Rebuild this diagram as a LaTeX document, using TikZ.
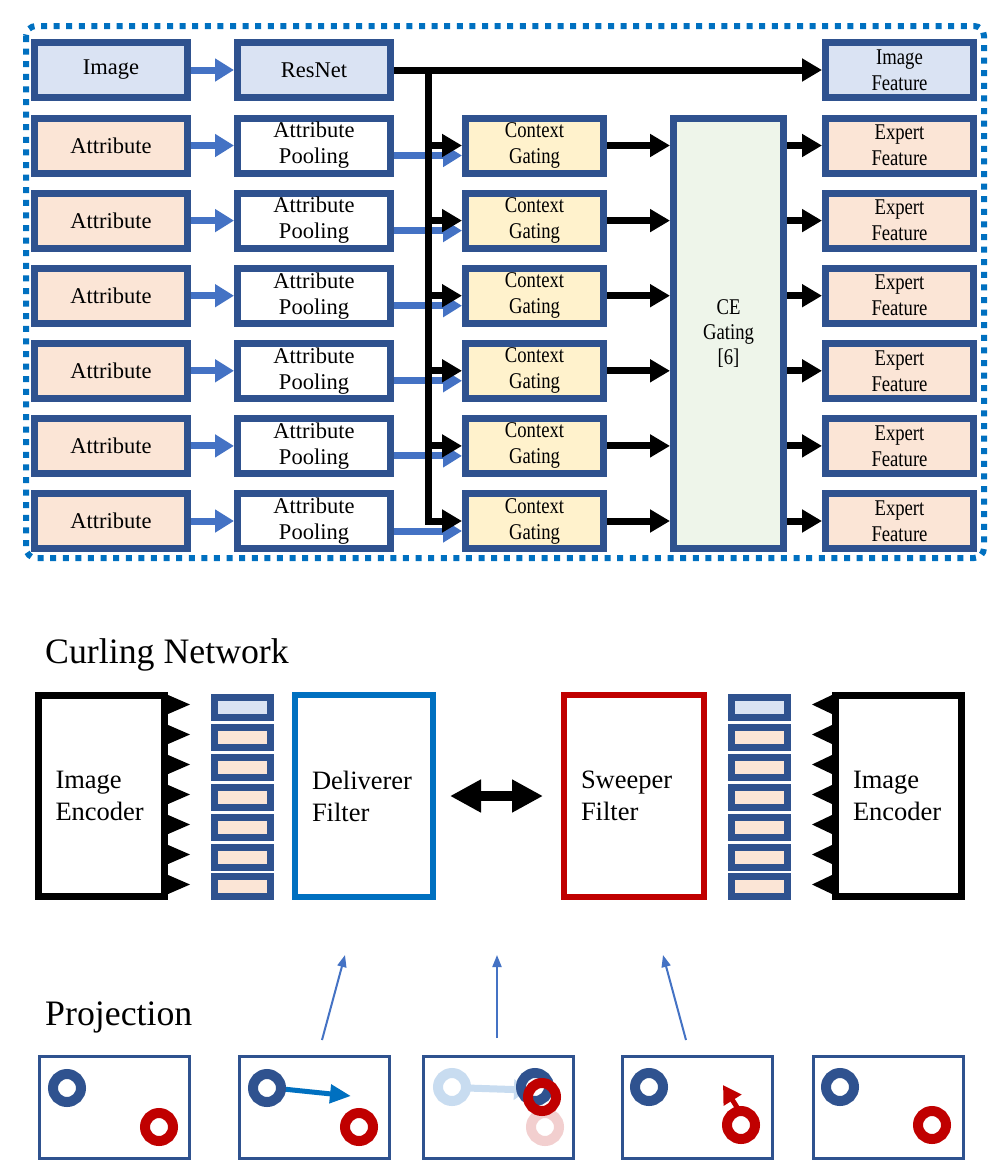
\documentclass[tikz,border=0pt]{standalone}
\usepackage{fontspec}
\setmainfont{Liberation Serif}
\newfontfamily\narrowserif[FakeStretch=0.83]{Liberation Serif}
\usetikzlibrary{arrows.meta}
\definecolor{boxblue}{HTML}{2F528F}
\definecolor{arrblue}{HTML}{4472C4}
\definecolor{lblue}{HTML}{DAE3F3}
\definecolor{peach}{HTML}{FBE5D6}
\definecolor{cream}{HTML}{FFF2CC}
\definecolor{lgreen}{HTML}{EEF5EA}
\definecolor{dblue}{HTML}{0070C0}
\definecolor{dred}{HTML}{C00000}
\definecolor{fblue}{HTML}{C8DCF0}
\definecolor{fred}{HTML}{F2CFCF}
\begin{document}
\begin{tikzpicture}[x=1pt,y=-1pt,
  blk/.style={draw=boxblue, line width=7pt, minimum width=153pt, minimum height=55pt,
    inner sep=0pt, align=center, font=\fontsize{22.5}{26}\selectfont},
  nblk/.style={blk, font=\narrowserif\fontsize{22.5}{26}\selectfont},
  barr/.style={draw=arrblue, line width=7pt, -{Triangle[length=19pt,width=22pt]}},
  karr/.style={draw=black, line width=7pt, -{Triangle[length=20pt,width=22pt]}},
  feat/.style={draw=boxblue, line width=7pt, minimum width=56pt, minimum height=20pt, inner sep=0pt},
  encbox/.style={draw=black, line width=7pt, minimum width=126pt, minimum height=201pt,
    text width=92pt, align=left, font=\fontsize{26.5}{32}\selectfont},
  filt/.style={line width=6pt, minimum width=138pt, minimum height=202pt,
    text width=104pt, inner xsep=17pt, align=left, font=\fontsize{26.5}{32}\selectfont},
  pbox/.style={draw=boxblue, line width=3pt, minimum width=150pt, minimum height=102pt, inner sep=0pt},
  ring/.style={line width=10pt},
  thin/.style={draw=arrblue, line width=2pt, -{Triangle[length=12pt,width=9pt]}},
  title/.style={inner sep=0pt, font=\fontsize{35.8}{44}\selectfont}
]
\path[use as bounding box, fill=white] (0,0) rectangle (1002,1170);

% dotted frame
\draw[dblue, line width=6pt, dash pattern=on 6pt off 6.6pt, rounded corners=10pt] (26,26) rectangle (984,558);

% top row
\node[blk, fill=lblue] (img) at (111,70) {Image};
\node[blk, fill=lblue] (res) at (314,70) {ResNet};
\node[nblk, fill=lblue, minimum width=148pt] (imf) at (899.5,70) {Image\\Feature};

% CE gating
\node[nblk, fill=lgreen, minimum width=110pt, minimum height=430pt,
  font=\narrowserif\fontsize{22.5}{25}\selectfont] (ce) at (728.5,333.5) {CE\\Gating\\{[6]}};

\foreach \i in {1,...,6}{
  \pgfmathsetmacro{\yy}{145.5+75.1*(\i-1)}
  \node[blk, fill=peach] (att\i) at (111,\yy) {Attribute};
  \node[blk, fill=white] (pool\i) at (314,\yy) {Attribute\\Pooling};
  \node[nblk, fill=cream, minimum width=138pt] (cg\i) at (534.5,\yy) {Context\\Gating};
  \node[nblk, fill=peach, minimum width=148pt] (ex\i) at (899.5,\yy) {Expert\\Feature};
}

% blue arrows
\draw[barr] (img.east) -- (res.west);
\foreach \i in {1,...,6}{
  \draw[barr] (att\i.east) -- (pool\i.west);
  \draw[barr] ([yshift=-10pt]pool\i.east) -- ([yshift=-10pt]cg\i.west);
}

% black arrows
\coordinate (jn) at (428,70);
\draw[karr] (res.east) -- (imf.west);
\draw[karr] (jn) |- (cg6.west);
\foreach \i in {1,...,5}{
  \draw[karr] (jn |- cg\i.west) -- (cg\i.west);
}
\foreach \i in {1,...,6}{
  \draw[karr] (cg\i.east) -- (ce.west |- cg\i.east);
  \draw[karr] (ce.east |- ex\i.west) -- (ex\i.west);
}

% Curling network
\node[title, anchor=base west] (curl) at (45,663) {Curling Network};

\node[encbox, inner xsep=17pt] (enc1) at (101.5,796) {Image\\Encoder};
\node[encbox, inner xsep=17.5pt, text width=91pt] (enc2) at (898.5,796) {Image\\Encoder};
\node[filt, draw=dblue] (dfil) at (364,796) {Deliverer\\Filter};
\node[filt, draw=dred, minimum width=140pt, text width=106pt] (sfil) at (634,796) {Sweeper\\Filter};

\foreach \k in {0,...,6}{
  \pgfmathsetmacro{\yy}{707.5+29.9*\k}
  \pgfmathsetmacro{\ty}{704.5+30.0*\k}
  \ifnum\k=0
    \node[feat, fill=lblue] (fl\k) at (242.5,\yy) {};
    \node[feat, fill=lblue] (fr\k) at (759.5,\yy) {};
  \else
    \node[feat, fill=peach] (fl\k) at (242.5,\yy) {};
    \node[feat, fill=peach] (fr\k) at (759.5,\yy) {};
  \fi
  \fill[black] (167,\ty-10) -- (190,\ty) -- (167,\ty+10) -- cycle;
  \fill[black] (833,\ty-10) -- (812,\ty) -- (833,\ty+10) -- cycle;
}

\draw[line width=10pt, {Triangle[length=31pt,width=31pt]}-{Triangle[length=31pt,width=31pt]}]
  ([xshift=14pt]dfil.east) -- ([xshift=-18pt]sfil.west);

% Projection
\node[title, anchor=base west] (proj) at (45,1025) {Projection};

\node[pbox] (p1) at (114.5,1107.5) {};
\node[pbox] (p2) at (314.5,1107.5) {};
\node[pbox] (p3) at (498.5,1107.5) {};
\node[pbox] (p4) at (697,1107) {};
\node[pbox] (p5) at (888,1107) {};

% box 1
\draw[ring, boxblue] (67,1088) circle[radius=14pt];
\draw[ring, dred] (159,1127) circle[radius=14pt];
% box 2
\draw[dblue, line width=5pt, -{Triangle[length=21pt,width=18pt]}] (283,1089) -- (351,1096);
\draw[ring, boxblue] (267,1088) circle[radius=14pt];
\draw[ring, dred] (359,1127) circle[radius=14pt];
% box 3
\draw[ring, fred] (545,1127) circle[radius=14pt];
\draw[ring, fblue] (452,1087) circle[radius=14pt];
\draw[fblue, line width=7pt, -{Triangle[length=14pt,width=20pt]}] (467,1088) -- (528,1090);
\draw[ring, boxblue] (535,1087) circle[radius=14pt];
\draw[ring, dred] (542,1097) circle[radius=14pt];
% box 4
\draw[ring, boxblue] (649,1087) circle[radius=14pt];
\draw[dred, line width=5pt, -{Triangle[length=18pt,width=20pt]}] (740,1112) -- (723,1085);
\draw[ring, dred] (741,1125) circle[radius=14pt];
% box 5
\draw[ring, boxblue] (840,1087) circle[radius=14pt];
\draw[ring, dred] (932,1125) circle[radius=14pt];

% thin arrows
\coordinate (t1a) at (322,1040); \coordinate (t1b) at (345,955);
\coordinate (t2a) at (497,1038); \coordinate (t2b) at (497,955);
\coordinate (t3a) at (686,1040); \coordinate (t3b) at (663,955);
\draw[thin] (t1a) -- (t1b);
\draw[thin] (t2a) -- (t2b);
\draw[thin] (t3a) -- (t3b);
\end{tikzpicture}
\end{document}
